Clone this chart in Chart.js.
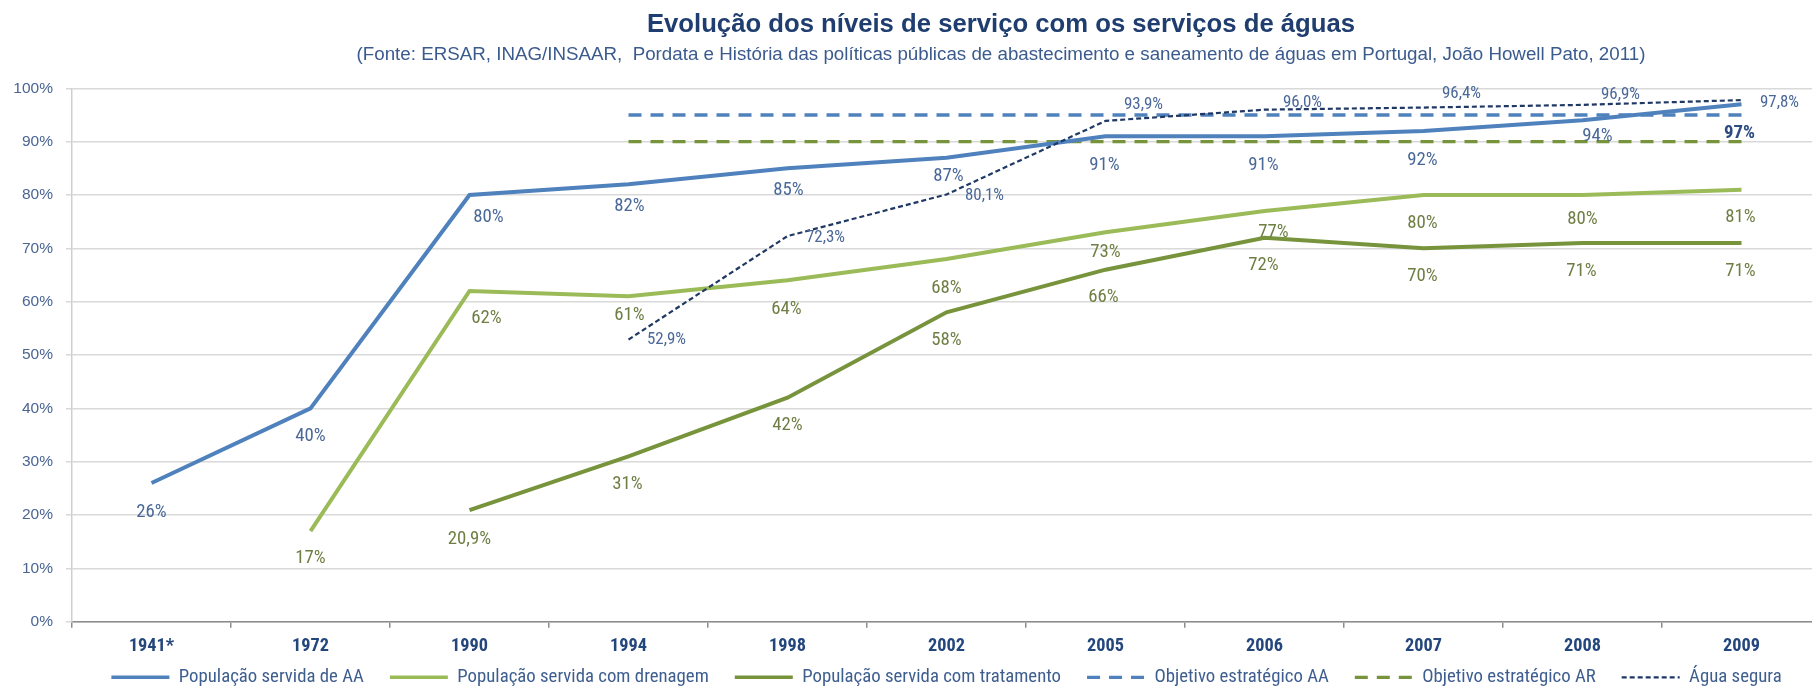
<!DOCTYPE html>
<html><head><meta charset="utf-8">
<script src="https://cdn.jsdelivr.net/npm/chart.js@4.4.1/dist/chart.umd.min.js"></script>
<style>html,body{margin:0;padding:0;background:#fff;overflow:hidden;}#wrap{position:relative;width:2002px;height:717px;}</style>
</head><body><div id="wrap"><canvas id="c" width="2002" height="717"></canvas></div>
<script>
const categories = ['1941*','1972','1990','1994','1998','2002','2005','2006','2007','2008','2009'];
const servidaAA  = [26, 40, 80, 82, 85, 87, 91, 91, 92, 94, 97];
const drenagem   = [null, 17, 62, 61, 64, 68, 73, 77, 80, 80, 81];
const tratamento = [null, null, 20.9, 31, 42, 58, 66, 72, 70, 71, 71];
const objetivoAA = [null, null, null, 95, 95, 95, 95, 95, 95, 95, 95];
const objetivoAR = [null, null, null, 90, 90, 90, 90, 90, 90, 90, 90];
const aguaSegura = [null, null, null, 52.9, 72.3, 80.1, 93.9, 96.0, 96.4, 96.9, 97.8];
const yTickValues = [0, 10, 20, 30, 40, 50, 60, 70, 80, 90, 100];
const seriesNames = ['População servida de AA','População servida com drenagem','População servida com tratamento','Objetivo estratégico AA','Objetivo estratégico AR','Água segura'];
const titleText = 'Evolução dos níveis de serviço com os serviços de águas';
const subtitleText = '(Fonte: ERSAR, INAG/INSAAR,  Pordata e História das políticas públicas de abastecimento e saneamento de águas em Portugal, João Howell Pato, 2011)';

const FR = "'Liberation Sans', Arial, sans-serif";
const FN = "'Roboto Condensed', 'Liberation Sans', Arial, sans-serif";

function fmt(v, dec){ return (dec ? v.toFixed(dec) : (Number.isInteger(v) ? String(v) : v.toFixed(1))).replace('.', ',') + '%'; }

// value labels drawn next to each point
const labelPlugin = {
  id: 'pointLabels',
  afterDatasetsDraw(chart){
    const ctx = chart.ctx;
    chart.data.datasets.forEach((ds, di) => {
      const cfg = ds.pointLabels; if (!cfg) return;
      const meta = chart.getDatasetMeta(di);
      meta.data.forEach((pt, i) => {
        const v = ds.data[i]; if (v == null) return;
        const sh = (cfg.shift && cfg.shift[i]) || [0, 0];
        const bold = cfg.bold && cfg.bold[i];
        ctx.save();
        ctx.font = (bold ? 'bold ' : '') + cfg.size + 'px ' + FN;
        ctx.fillStyle = bold ? cfg.boldColor : cfg.color;
        ctx.textAlign = 'center';
        ctx.textBaseline = 'middle';
        ctx.fillText(fmt(v, cfg.decimals), pt.x + cfg.dx + sh[0], pt.y + cfg.dy + sh[1]);
        ctx.restore();
      });
    });
  }
};
// legend sits a little higher, overlapping the (empty) lower part of the x-axis box
const legendNudge = {
  id: 'legendNudge',
  afterLayout(chart){ const l = chart.legend; l.top -= 20.3; l.bottom -= 20.3; }
};

const blueLbl = '#4A6898', greenLbl = '#6E7E44';
const chart = new Chart(document.getElementById('c'), {
  type: 'line',
  data: {
    labels: categories,
    datasets: [
      { label: seriesNames[5], data: aguaSegura, borderColor: '#1F3864', borderWidth: 2.2, borderDash: [5, 3], pointRadius: 0, tension: 0,
        pointLabels: { size: 16.9, decimals: 1, color: blueLbl, dx: 38, dy: 0,
          shift: [null,null,null,[0,0],[0,2],[0,1],[0,-16],[0,-7],[0,-14],[0,-10],[0,3]] } },
      { label: seriesNames[0], data: servidaAA, borderColor: '#4F81BD', borderWidth: 4, pointRadius: 0, tension: 0,
        pointLabels: { size: 18.8, color: blueLbl, boldColor: '#2E4C80', dx: 0, dy: 28,
          bold: [0,0,0,0,0,0,0,0,0,0,1],
          shift: [[0,1],[0,0],[19,-6],[1,-6],[1,-6],[2,-9],[-1,1],[-1,1],[-1,1],[15,-12],[-2,1]] } },
      { label: seriesNames[1], data: drenagem, borderColor: '#9BBB59', borderWidth: 4, pointRadius: 0, tension: 0,
        pointLabels: { size: 18.8, color: greenLbl, dx: 0, dy: 28,
          shift: [null,[0,-1],[17,-1],[1,-9],[-1,1],[0,1],[0,-8],[9,-7],[-1,0],[0,-4],[-1,0]] } },
      { label: seriesNames[2], data: tratamento, borderColor: '#77933C', borderWidth: 4, pointRadius: 0, tension: 0,
        pointLabels: { size: 18.8, color: greenLbl, dx: 0, dy: 28,
          shift: [null,null,[0,1],[-1,0],[0,0],[0,0],[-2,0],[-1,0],[-1,0],[-1,0],[-1,0]] } },
      { label: seriesNames[3], data: objetivoAA, borderColor: '#4F81BD', borderWidth: 3.3, borderDash: [13, 9], pointRadius: 0, tension: 0 },
      { label: seriesNames[4], data: objetivoAR, borderColor: '#77933C', borderWidth: 3.3, borderDash: [13, 9], pointRadius: 0, tension: 0 }
    ]
  },
  options: {
    responsive: false,
    animation: false,
    devicePixelRatio: 1,
    layout: { padding: 0 },
    plugins: {
      title: { display: true, text: titleText, color: '#1F3D6E', font: { family: FR, size: 25.7, weight: 'bold' }, padding: { top: 9.3, bottom: 0 } },
      subtitle: { display: true, text: subtitleText, color: '#3B5B8E', font: { family: FR, size: 18.75 }, padding: { top: 3.5, bottom: 22.2 } },
      legend: {
        position: 'bottom', fullSize: false,
        labels: {
          usePointStyle: true, pointStyle: 'line', pointStyleWidth: 58, color: '#3E5E90', font: { family: FN, size: 18.8 }, padding: 26,
          generateLabels(chart){
            const items = Chart.defaults.plugins.legend.labels.generateLabels(chart);
            items.forEach(it => {
              const ds = chart.data.datasets[it.datasetIndex];
              it.lineDash = ds.borderDash || [];
              it.lineWidth = Math.min(ds.borderWidth, 3.4);
              it.strokeStyle = ds.borderColor;
            });
            return items;
          },
          sort: (a, b) => seriesNames.indexOf(a.text) - seriesNames.indexOf(b.text)
        }
      },
      tooltip: { enabled: false }
    },
    scales: {
      x: {
        offset: true,
        grid: { display: true, offset: true, drawOnChartArea: false, drawTicks: true, tickLength: 6, color: '#8C8C8C', lineWidth: 1.5 },
        border: { display: true, color: '#8C8C8C', width: 1.5 },
        ticks: { color: '#23467C', font: { family: FN, size: 18.3, weight: 'bold' }, padding: 8, maxRotation: 0, autoSkip: false },
        afterFit(s){ s.height = 40.5; }
      },
      y: {
        min: 0, max: 100,
        afterBuildTicks(s){ s.ticks = yTickValues.map(v => ({ value: v })); },
        grid: { color: '#D9D9D9', lineWidth: 1.5, tickLength: 6, drawTicks: true },
        border: { display: true, color: '#CFCFCF', width: 1.5 },
        ticks: { color: '#4A6592', font: { family: FR, size: 15.5 }, padding: 13, callback: v => v + '%' },
        afterFit(s){ s.width = 72; }
      },
      y2: {
        position: 'right', display: true,
        grid: { display: false, drawOnChartArea: false }, border: { display: false }, ticks: { display: false },
        afterFit(s){ s.width = 181; }
      }
    }
  },
  plugins: [labelPlugin, legendNudge]
});
</script></body></html>
